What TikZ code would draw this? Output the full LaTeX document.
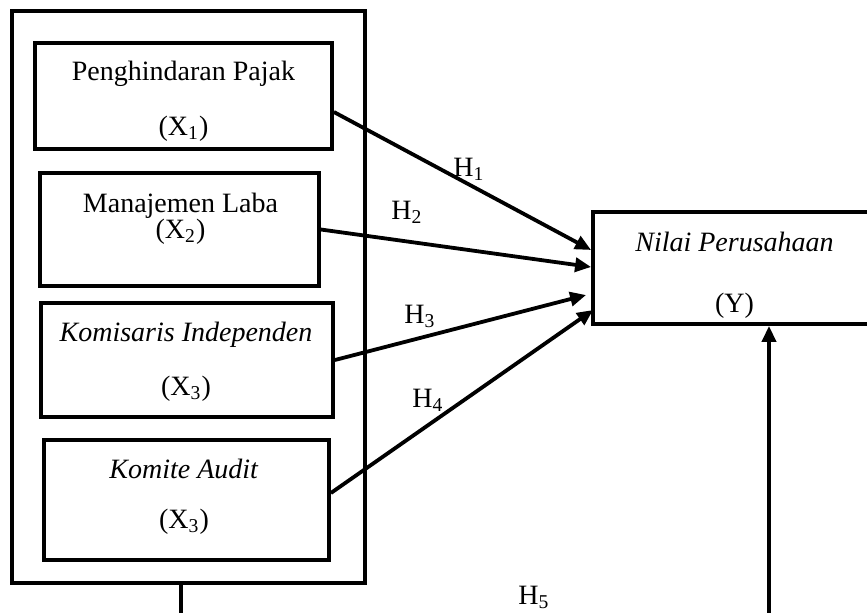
\documentclass[tikz,border=0pt]{standalone}
\usepackage{fontspec}
\setmainfont{Liberation Serif}
\usetikzlibrary{arrows.meta, positioning, calc}

\tikzset{
  box/.style={draw, line width=1.9pt, inner sep=0pt},
  txt/.style={anchor=base, inner sep=0pt, font=\fontsize{14pt}{16pt}\selectfont},
  hyp/.style={-{Triangle[length=8pt,width=7pt]}, line width=1.9pt},
}

\begin{document}
\begin{tikzpicture}[x=0.5pt,y=-0.5pt]
  \useasboundingbox (0,0) rectangle (867,612);
  \clip (0,0) rectangle (867,612);

  \node (frame) [box, line width=2.3pt, minimum width=176.5pt, minimum height=286pt] at (188.5,297) {};
  \node (b1) [box, minimum width=148.5pt, minimum height=53pt] at (183.5,96) {};
  \node (b2) [box, minimum width=139.5pt, minimum height=56.5pt] at (179.5,229.5) {};
  \node (b3) [box, minimum width=146pt, minimum height=57pt] at (187,360) {};
  \node (b4) [box, minimum width=142.5pt, minimum height=60pt] at (186.5,500) {};
  \node (y) [box, minimum width=141.5pt, minimum height=56pt] at (734.5,268) {};

  \node (t1a) [txt] at (183.5,80) {Penghindaran Pajak};
  \node (t1b) [txt] at (183.5,135) {(X\textsubscript{1})};
  \node (t2a) [txt] at (180.5,212) {Manajemen Laba};
  \node (t2b) [txt] at (180.5,238) {(X\textsubscript{2})};
  \node (t3a) [txt] at (186,341) {\textit{Komisaris Independen}};
  \node (t3b) [txt] at (186,395) {(X\textsubscript{3})};
  \node (t4a) [txt] at (184,478) {\textit{Komite Audit}};
  \node (t4b) [txt] at (184,528) {(X\textsubscript{3})};
  \node (ya) [txt] at (734.5,251) {\textit{Nilai Perusahaan}};
  \node (yb) [txt] at (734.5,312) {(Y)};

  \node (h1) [txt] at (469,176) {H\textsubscript{1}};
  \node (h2) [txt] at (407,219) {H\textsubscript{2}};
  \node (h3) [txt] at (420,323) {H\textsubscript{3}};
  \node (h4) [txt] at (428,407) {H\textsubscript{4}};
  \node (h5) [txt] at (534,604) {H\textsubscript{5}};

  \draw[hyp] ([yshift=-8pt]b1.east) -- ([yshift=9pt]y.west);
  \draw[hyp] (b2.east) -- ([yshift=0.5pt]y.west);
  \draw[hyp] (b3.east) -- ([xshift=-2.5pt,yshift=-13.5pt]y.west);
  \draw[hyp] ([yshift=3.5pt]b4.east) -- ([xshift=1pt,yshift=-21pt]y.west);

  % H5 runs under the frame, below the cut
  \coordinate (low) at (181,640);
  \coordinate (lowr) at (769,640);
  \draw[hyp] (frame.south -| low) -- (low) -- (lowr) -- (y.south -| lowr);
\end{tikzpicture}
\end{document}
